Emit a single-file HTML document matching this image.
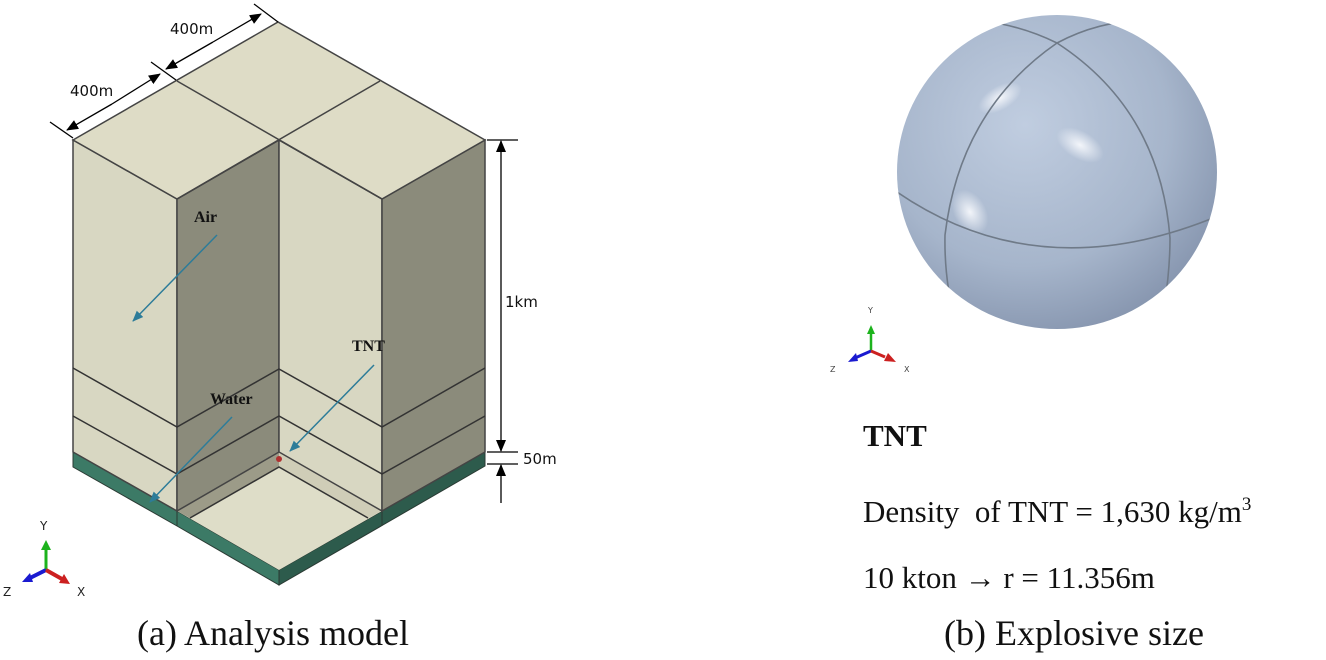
<!DOCTYPE html>
<html><head><meta charset="utf-8"><style>
html,body{margin:0;padding:0;background:#fff;}
svg{display:block;}
</style></head><body>
<svg width="1326" height="660" viewBox="0 0 1326 660" xmlns="http://www.w3.org/2000/svg">
<defs>
<radialGradient id="sph" cx="0.4" cy="0.35" r="0.75">
<stop offset="0" stop-color="#c0cde0"/>
<stop offset="0.6" stop-color="#a6b5cb"/>
<stop offset="1" stop-color="#7f8ea8"/>
</radialGradient>
<radialGradient id="hl" cx="0.5" cy="0.5" r="0.5">
<stop offset="0" stop-color="#f6f8fc" stop-opacity="0.95"/>
<stop offset="1" stop-color="#f6f8fc" stop-opacity="0"/>
</radialGradient>
<clipPath id="sc"><ellipse cx="1057" cy="172" rx="160" ry="157"/></clipPath>
<marker id="ah" markerWidth="11" markerHeight="9" refX="10" refY="4.5" orient="auto" markerUnits="userSpaceOnUse"><path d="M0,0 L11,4.5 L0,9 z" fill="#2d7c99"/></marker>
<marker id="bk" markerWidth="12" markerHeight="10" refX="11" refY="5" orient="auto" markerUnits="userSpaceOnUse"><path d="M0,0 L12,5 L0,10 z" fill="#000"/></marker>
</defs>

<polygon points="73,452 177,511 279,570 279,585 177,526 73,467" fill="#3c7a66" stroke="#2a3a33" stroke-width="1"/>
<polygon points="279,570 382,511 485,452 485,466 279,585" fill="#2d5b4c" stroke="#2a3a33" stroke-width="1"/>
<line x1="177" y1="511" x2="177" y2="526" stroke="#2a3a33"/>
<line x1="382" y1="511" x2="382" y2="526" stroke="#2a3a33"/>

<polygon points="177,511 279,452 382,511 279,570" fill="#deddc8"/>
<polygon points="177,511 279,452 279,467 190,518" fill="#9c9b88"/>
<polygon points="279,452 382,511 368,518 279,467" fill="#cfcdb7"/>
<polyline points="190,518 279,467 368,518" fill="none" stroke="#333" stroke-width="1.5"/>

<polygon points="73,140 177,199 177,511 73,452" fill="#d8d7c2" stroke="#444" stroke-width="1.5"/>
<polygon points="177,199 279,140 279,452 177,511" fill="#8b8b7b" stroke="#444" stroke-width="1.5"/>
<polygon points="279,140 382,199 382,511 279,452" fill="#d8d7c2" stroke="#444" stroke-width="1.5"/>
<polygon points="382,199 485,140 485,452 382,511" fill="#8b8b7b" stroke="#444" stroke-width="1.5"/>
<polygon points="73,140 278,22 485,140 382,199 279,140 177,199" fill="#dedcc6" stroke="#444" stroke-width="1.5"/>
<line x1="177" y1="81" x2="382" y2="199" stroke="#444" stroke-width="1.5"/>
<line x1="380" y1="81" x2="177" y2="199" stroke="#444" stroke-width="1.5"/>

<g stroke="#333" stroke-width="1.5" fill="none">
<polyline points="73,368 177,427 279,369 382,427 485,368"/>
<polyline points="73,416 177,474 279,416 382,474 485,416"/>
</g>
<circle cx="279" cy="459" r="3" fill="#b03030"/>

<g stroke="#000" stroke-width="1.3">
<line x1="50" y1="122" x2="73" y2="138"/>
<line x1="151" y1="62" x2="176" y2="80"/>
<line x1="254" y1="4" x2="278" y2="22"/>
<line x1="112" y1="104" x2="67" y2="130" marker-end="url(#bk)"/>
<line x1="112" y1="104" x2="160" y2="74" marker-end="url(#bk)"/>
<line x1="213" y1="42" x2="166" y2="69" marker-end="url(#bk)"/>
<line x1="213" y1="42" x2="261" y2="14" marker-end="url(#bk)"/>
<line x1="487" y1="140" x2="518" y2="140"/>
<line x1="487" y1="452" x2="518" y2="452"/>
<line x1="487" y1="464" x2="518" y2="464"/>
<line x1="501" y1="300" x2="501" y2="141" marker-end="url(#bk)"/>
<line x1="501" y1="300" x2="501" y2="451" marker-end="url(#bk)"/>
<line x1="501" y1="503" x2="501" y2="465" marker-end="url(#bk)"/>
</g>
<g font-family="'DejaVu Sans','Liberation Sans',sans-serif" font-size="15" fill="#111">
<text x="70" y="96">400m</text>
<text x="170" y="34">400m</text>
<text x="505" y="307">1km</text>
<text x="523" y="464">50m</text>
</g>

<g stroke="#2d7c99" stroke-width="1.5">
<line x1="217" y1="235" x2="133" y2="321" marker-end="url(#ah)"/>
<line x1="232" y1="417" x2="150" y2="502" marker-end="url(#ah)"/>
<line x1="374" y1="365" x2="290" y2="451" marker-end="url(#ah)"/>
</g>
<g font-family="'Liberation Serif',serif" font-weight="bold" font-size="16" fill="#111">
<text x="194" y="222">Air</text>
<text x="210" y="404">Water</text>
<text x="352" y="351">TNT</text>
</g>

<g>
<line x1="46" y1="570" x2="46" y2="548" stroke="#1db31d" stroke-width="3"/>
<polygon points="41,550 46,540 51,550" fill="#1db31d"/>
<line x1="46" y1="570" x2="28" y2="579" stroke="#1a1ad0" stroke-width="4"/>
<polygon points="22,582 30,573 33,582" fill="#1a1ad0"/>
<line x1="46" y1="570" x2="62" y2="579" stroke="#cc2020" stroke-width="4"/>
<polygon points="70,584 59,583 64,574" fill="#cc2020"/>
<g font-family="'DejaVu Sans',sans-serif" font-size="12" fill="#222">
<text x="40" y="530">Y</text><text x="3" y="596">Z</text><text x="77" y="596">X</text>
</g>
</g>

<ellipse cx="1057" cy="172" rx="160" ry="157" fill="url(#sph)"/>
<g clip-path="url(#sc)">
<ellipse cx="1000" cy="98" rx="24" ry="12" fill="url(#hl)" transform="rotate(-30 1000 98)"/>
<ellipse cx="1080" cy="145" rx="26" ry="14" fill="url(#hl)" transform="rotate(30 1080 145)"/>
<ellipse cx="970" cy="212" rx="16" ry="24" fill="url(#hl)" transform="rotate(-30 970 212)"/>
<g fill="none" stroke="#6f7a88" stroke-width="1.6">
<path d="M897,192 Q1040,290 1218,216"/>
<path d="M1057,43 Q960,110 945,235 Q944,285 958,330"/>
<path d="M1057,43 Q1160,110 1170,238 Q1170,280 1160,330"/>
<path d="M1057,43 Q1010,20 960,20"/>
<path d="M1057,43 Q1100,20 1150,20"/>
</g>
</g>

<g>
<line x1="871" y1="351" x2="871" y2="332" stroke="#1db31d" stroke-width="2.5"/>
<polygon points="867,334 871,325 875,334" fill="#1db31d"/>
<line x1="871" y1="351" x2="855" y2="358" stroke="#1a1ad0" stroke-width="3"/>
<polygon points="848,362 856,353 858,361" fill="#1a1ad0"/>
<line x1="871" y1="351" x2="885" y2="357" stroke="#cc2020" stroke-width="3"/>
<polygon points="896,362 884,361 888,353" fill="#cc2020"/>
<g font-family="'DejaVu Sans',sans-serif" font-size="8" fill="#444">
<text x="868" y="313">Y</text><text x="830" y="372">Z</text><text x="904" y="372">X</text>
</g>
</g>

<g font-family="'Liberation Serif',serif" fill="#111">
<text x="863" y="446" font-size="31" font-weight="bold">TNT</text>
<text x="863" y="522" font-size="31">Density&#160; of TNT = 1,630 kg/m<tspan font-size="19" dy="-12">3</tspan></text>
<text x="863" y="588" font-size="31">10 kton → r = 11.356m</text>
</g>

<g font-family="'Liberation Serif',serif" font-size="36" fill="#111">
<text x="137" y="645">(a) Analysis model</text>
<text x="944" y="645">(b) Explosive size</text>
</g>
</svg>
</body></html>
